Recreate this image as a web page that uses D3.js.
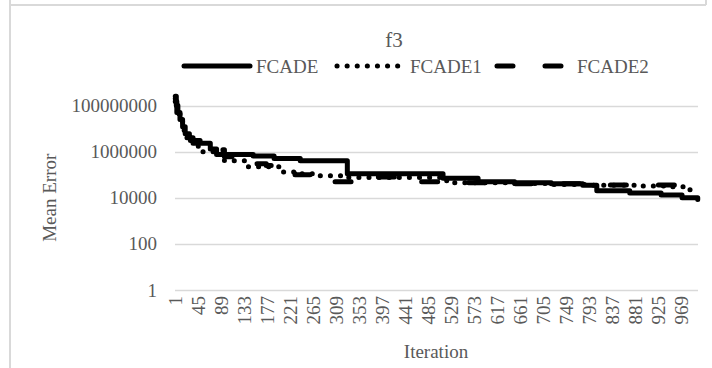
<!DOCTYPE html>
<html>
<head>
<meta charset="utf-8">
<script src="https://cdn.jsdelivr.net/npm/d3@7"></script>
<style>
  html, body { margin: 0; padding: 0; background: #fff; }
  svg { display: block; }
  text { font-family: "Liberation Serif", "Times New Roman", serif; fill: #595959; }
</style>
</head>
<body>
<svg id="chart" width="712" height="368"></svg>
<script>
// ---- data ----
const title = "f3";
const seriesNames = ["FCADE", "FCADE1", "FCADE2"];
const iterationCount = 1000;
const tickLabels = [1, 45, 89, 133, 177, 221, 265, 309, 353, 397, 441, 485, 529, 573, 617, 661, 705, 749, 793, 837, 881, 925, 969];
const yTicks = [1, 100, 10000, 1000000, 100000000];
// step-wise convergence curves: [iteration, mean error] (value holds until next breakpoint)
const fcade = [
  [1, 2.5e8], [3, 1e8], [6, 5e7], [10, 2.5e7], [15, 1.2e7], [20, 6e6], [28, 4e6], [35, 2.3e6],
  [68, 1.3e6], [80, 7.5e5], [150, 6.5e5], [190, 5e5], [240, 4e5], [330, 1.1e5], [513, 7e4],
  [580, 5e4], [650, 4.5e4], [720, 4e4], [780, 3.5e4], [807, 2e4], [870, 1.6e4], [930, 1.3e4],
  [970, 1e4], [1000, 8.5e3]
];
const fcade1 = [
  [1, 2e8], [5, 6e7], [10, 2e7], [18, 6e6], [26, 3e6], [45, 1e6], [95, 4e5], [140, 2.2e5],
  [205, 1.3e5], [240, 1.1e5], [275, 9e4], [330, 7.5e4], [520, 4.5e4], [640, 4.2e4], [720, 3.8e4],
  [800, 3.5e4], [880, 3.2e4], [950, 3e4], [985, 2.2e4], [1000, 2.2e4]
];
const fcade2 = [
  [1, 1.5e8], [4, 5e7], [8, 2e7], [14, 6e6], [20, 4e6], [30, 3e6], [60, 2e6], [85, 1.2e6],
  [95, 6e5], [120, 4e5], [145, 3e5], [175, 2.5e5], [200, 1.5e5], [230, 1e5], [265, 5e4],
  [380, 8e4], [440, 5e4], [520, 4.5e4], [650, 4e4], [800, 3.6e4], [1000, 3.4e4]
];
const seriesData = [fcade, fcade1, fcade2];

// ---- layout ----
const svg = d3.select("#chart");
const plot = { left: 175, right: 698, top: 105.5, bottom: 290 };
const iterations = d3.range(1, iterationCount + 1);
const x = d3.scaleBand().domain(iterations).range([plot.left, plot.right]).padding(0);
const xc = i => x(i) + x.bandwidth() / 2;
const y = d3.scaleLog().domain([1, 1e8]).range([plot.bottom, plot.top]);

// frame lines
svg.append("line").attr("x1", 10).attr("x2", 10).attr("y1", 0).attr("y2", 368)
  .attr("stroke", "#d9d9d9").attr("stroke-width", 2);
svg.append("line").attr("x1", 10).attr("x2", 706).attr("y1", 5).attr("y2", 5)
  .attr("stroke", "#d9d9d9").attr("stroke-width", 2);
svg.append("line").attr("x1", 706).attr("x2", 706).attr("y1", 0).attr("y2", 5)
  .attr("stroke", "#d9d9d9").attr("stroke-width", 2);

// gridlines
svg.append("g").selectAll("line").data(yTicks).join("line")
  .attr("x1", plot.left).attr("x2", plot.right)
  .attr("y1", d => Math.round(y(d)) + 0.5).attr("y2", d => Math.round(y(d)) + 0.5)
  .attr("stroke", "#d9d9d9").attr("stroke-width", 1.3);

// y axis labels
const yAxis = d3.axisLeft(y).tickValues(yTicks).tickFormat(d3.format("d")).tickSize(0).tickPadding(18);
const gy = svg.append("g").attr("transform", `translate(${plot.left},0)`).call(yAxis);
gy.select(".domain").remove();
gy.selectAll("text").style("font-size", "19px").style("font-family", "Liberation Serif").attr("fill", "#595959");

// x axis labels (rotated)
const xAxis = d3.axisBottom(x).tickValues(tickLabels).tickSize(0).tickPadding(0);
const gx = svg.append("g").attr("transform", `translate(0,${plot.bottom})`).call(xAxis);
gx.select(".domain").remove();
gx.selectAll("text")
  .style("font-size", "19px").style("font-family", "Liberation Serif").attr("fill", "#595959")
  .attr("transform", "rotate(-90)")
  .attr("text-anchor", "end")
  .attr("x", -6).attr("y", 0).attr("dy", "0.35em");

// axis titles
svg.append("text").attr("x", 436).attr("y", 358).attr("text-anchor", "middle")
  .style("font-size", "19px").text("Iteration");
svg.append("text").attr("transform", `translate(56,${(plot.top + plot.bottom) / 2}) rotate(-90)`)
  .attr("text-anchor", "middle").style("font-size", "19px").text("Mean Error");

// title
svg.append("text").attr("x", 394).attr("y", 47).attr("text-anchor", "middle")
  .style("font-size", "21px").text(title);

// series styles
const styles = [
  { dash: null, width: 5 },
  { dash: "0.1,10", width: 5 },
  { dash: "16,32", width: 5 }
];

const line = d3.line()
  .x(d => xc(d[0]))
  .y(d => y(d[1]))
  .curve(d3.curveStepAfter);

seriesData.forEach((s, k) => {
  svg.append("path").datum(s)
    .attr("d", line)
    .attr("fill", "none")
    .attr("stroke", "#000")
    .attr("stroke-width", styles[k].width)
    .attr("stroke-linecap", "round")
    .attr("stroke-linejoin", "round")
    .attr("stroke-dasharray", styles[k].dash);
});

// legend
const legendItems = [
  { x1: 184, x2: 250, tx: 256 },
  { x1: 337, x2: 399, tx: 410 },
  { x1: 497, x2: 562, tx: 577 }
];
const legY = 66;
seriesNames.forEach((name, k) => {
  const it = legendItems[k];
  svg.append("line").attr("x1", it.x1).attr("x2", it.x2).attr("y1", legY).attr("y2", legY)
    .attr("stroke", "#000").attr("stroke-width", styles[k].width)
    .attr("stroke-linecap", "round").attr("stroke-dasharray", styles[k].dash);
  svg.append("text").attr("x", it.tx).attr("y", legY).attr("dy", "0.35em")
    .style("font-size", "19px").text(name);
});
</script>
</body>
</html>
